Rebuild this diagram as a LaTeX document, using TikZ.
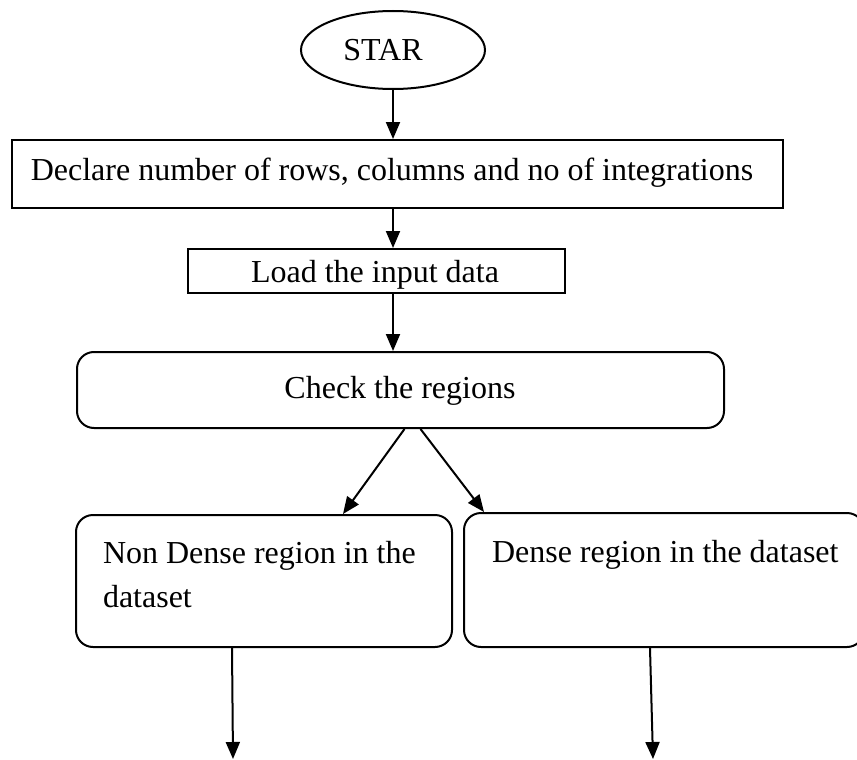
\documentclass[tikz,border=0pt]{standalone}
\usepackage{fontspec}
\setmainfont{Liberation Serif}
\usetikzlibrary{shapes.geometric,arrows.meta}
\begin{document}
\begin{tikzpicture}[x=1pt,y=-1pt,
  line width=2pt,
  flowarrow/.style={-{Triangle[length=17pt,width=14pt]}},
  plainbox/.style={draw,rectangle,inner sep=0pt},
  roundbox/.style={draw,rectangle,rounded corners=17pt,inner sep=0pt},
  lbl/.style={font=\fontsize{32}{40}\selectfont,inner sep=0pt,anchor=base}]
\useasboundingbox (0,0) rectangle (857,760);
% start ellipse
\node[draw,ellipse,minimum width=184pt,minimum height=78pt,inner sep=0pt] (start) at (393,50) {};
\node[lbl] (startlbl) at (383,60) {STAR};
% process boxes
\node[plainbox,minimum width=771pt,minimum height=68pt] (declare) at (397.5,174) {};
\node[lbl] (declarelbl) at (392,180) {Declare number of rows, columns and no of integrations};
\node[plainbox,minimum width=377pt,minimum height=44pt] (load) at (376.5,271) {};
\node[lbl] (loadlbl) at (375,282) {Load the input data};
\node[roundbox,minimum width=647pt,minimum height=76pt] (check) at (400.5,390) {};
\node[lbl] (checklbl) at (400,398) {Check the regions};
\node[roundbox,minimum width=376pt,minimum height=132pt] (nondense) at (264,581) {};
\node[lbl,anchor=base west] (nd1) at (102,563) {Non Dense region in the};
\node[lbl,anchor=base west] (nd2) at (102,607) {dataset};
\node[roundbox,minimum width=400pt,minimum height=134pt] (dense) at (664,580) {};
\node[lbl,anchor=base west] (d1) at (491,562) {Dense region in the dataset};
% loose ends at the bottom
\coordinate (endL) at (233,759);
\coordinate (endR) at (653,759);
% connectors
\draw[flowarrow] (start.south) -- (declare.north -| start.south);
\draw[flowarrow] (declare.south -| start.south) -- (load.north -| start.south);
\draw[flowarrow] (load.south -| start.south) -- (check.north -| start.south);
\draw[flowarrow] ([xshift=4pt]check.south) -- (nondense.north -| 343,0);
\draw[flowarrow] ([xshift=20pt]check.south) -- (dense.north -| 484,0);
\draw[flowarrow] (nondense.south -| 232,0) -- (endL);
\draw[flowarrow] (dense.south -| 650,0) -- (endR);
\end{tikzpicture}
\end{document}
